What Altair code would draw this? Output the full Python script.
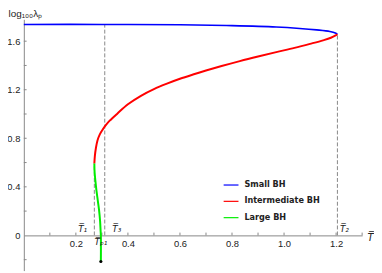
import altair as alt
import pandas as pd

# ---- data ----
blue_T = [0.0, 0.30, 0.60, 0.80, 0.97, 1.06, 1.125, 1.176, 1.197, 1.205]
blue_y = [1.738, 1.738, 1.735, 1.728, 1.717, 1.705, 1.693, 1.680, 1.668, 1.657]

red_T = [1.205, 1.198, 1.18, 1.15, 1.10, 1.04, 0.97, 0.90, 0.83, 0.76, 0.70, 0.65,
         0.60, 0.55, 0.50, 0.45, 0.40, 0.36, 0.33, 0.315, 0.302, 0.292, 0.283,
         0.277, 0.273, 0.271]
red_y = [1.657, 1.647, 1.628, 1.607, 1.578, 1.545, 1.510, 1.474, 1.436, 1.395, 1.358, 1.325,
         1.290, 1.250, 1.205, 1.150, 1.080, 1.005, 0.945, 0.908, 0.868, 0.832, 0.782,
         0.720, 0.655, 0.592]

green_T = [0.271, 0.272, 0.275, 0.279, 0.284, 0.289, 0.293, 0.295, 0.296, 0.296]
green_y = [0.592, 0.520, 0.450, 0.370, 0.290, 0.210, 0.120, 0.040, 0.000, -0.215]

dot_T = [0.296]
dot_y = [-0.215]

series_names = ["Small BH", "Intermediate BH", "Large BH"]
series_colors = ["#0000ff", "#ff0000", "#00ee00"]

vline_T = [0.271, 0.311, 1.205]
vline_top = [0.592, 1.738, 1.657]

mark_labels = ["T\u0305\u2081", "T\u0305\u2083", "T\u0305\u209a\u2081", "T\u0305\u2082"]
mark_label_T = [0.226, 0.357, 0.296, 1.232]
mark_label_y = [0.055, 0.055, -0.058, 0.055]

x_tick_labels = [0.2, 0.4, 0.6, 0.8, 1.0, 1.2]
y_tick_labels = [0.0, 0.4, 0.8, 1.2, 1.6]
x_minor = [0.1, 0.2, 0.3, 0.4, 0.5, 0.6, 0.7, 0.8, 0.9, 1.0, 1.1, 1.2, 1.3]
y_minor = [-0.2, 0.2, 0.4, 0.6, 0.8, 1.0, 1.2, 1.4, 1.6]

x_dom = [0.0, 1.30]
y_dom = [-0.29, 1.78]
W, H = 342, 254

# ---- tables ----
def curve(name, T, y):
    return pd.DataFrame({"T": T, "y": y, "series": name, "i": range(len(T))})

df_blue = curve(series_names[0], blue_T, blue_y)
df_red = curve(series_names[1], red_T, red_y)
df_green = curve(series_names[2], green_T, green_y)
df_dot = pd.DataFrame({"T": dot_T, "y": dot_y})
df_vl = pd.DataFrame({"T": vline_T, "y": [0.0] * len(vline_T), "y2": vline_top})
df_lab = pd.DataFrame({"T": mark_label_T, "y": mark_label_y, "txt": mark_labels})

tx = 2.8 * (x_dom[1] - x_dom[0]) / W   # tick length in data units
ty = 2.8 * (y_dom[1] - y_dom[0]) / H
df_xt = pd.DataFrame({"T": x_minor, "y": [0.0] * len(x_minor), "y2": [ty] * len(x_minor)})
df_yt = pd.DataFrame({"T": [0.0] * len(y_minor), "T2": [tx] * len(y_minor), "y": y_minor})

xs = alt.Scale(domain=x_dom, nice=False, zero=False)
ys = alt.Scale(domain=y_dom, nice=False, zero=False)
cs = alt.Scale(domain=series_names, range=series_colors)

x_offset = -H * (0 - y_dom[0]) / (y_dom[1] - y_dom[0])

x_axis = alt.Axis(values=x_tick_labels, format=".1f", ticks=False, tickSize=0,
                  grid=False, offset=x_offset, labelPadding=3,
                  labelFont="Liberation Sans", labelFontSize=9.5, labelColor="#222",
                  domainColor="#888", domainWidth=1,
                  title="T\u0305", titleFont="DejaVu Sans", titleFontStyle="italic",
                  titleFontWeight="normal", titleFontSize=10, titleColor="#222",
                  titleAngle=0, titleX=350, titleY=2, titleAlign="center",
                  titleBaseline="middle")
y_axis = alt.Axis(values=y_tick_labels, ticks=False, tickSize=0,
                  grid=False, labelPadding=4,
                  labelFont="Liberation Sans", labelFontSize=9.5, labelColor="#222",
                  labelExpr="datum.value == 0 ? '0' : format(datum.value, '.1f')",
                  domainColor="#888", domainWidth=1,
                  title="log\u2081\u2080\u2080\u03bb\u209a", titleFont="Liberation Sans",
                  titleFontWeight="normal", titleFontSize=10, titleColor="#222",
                  titleAngle=0, titleX=-16, titleY=-3, titleAlign="left",
                  titleBaseline="alphabetic")

legend = alt.Legend(title=None, orient="none", legendX=201, legendY=159,
                    symbolType="stroke", symbolSize=225, symbolStrokeWidth=1.2,
                    labelFont="DejaVu Sans", labelFontWeight="bold", labelFontSize=8.2,
                    labelColor="#222", labelOffset=5, rowPadding=4.5, padding=0)

X = alt.X("T:Q", scale=xs, axis=x_axis)
Y = alt.Y("y:Q", scale=ys, axis=y_axis)

vlines = alt.Chart(df_vl).mark_rule(strokeWidth=1, strokeDash=[4, 2]).encode(
    x=X, y=Y, y2="y2:Q", color=alt.value("#888"))

xticks = alt.Chart(df_xt).mark_rule(strokeWidth=1).encode(
    x=X, y=Y, y2="y2:Q", color=alt.value("#888"))
yticks = alt.Chart(df_yt).mark_rule(strokeWidth=1).encode(
    x=X, x2="T2:Q", y=Y, color=alt.value("#888"))

def line(df, w):
    return alt.Chart(df).mark_line(interpolate="catmull-rom").encode(
        x=X, y=Y,
        color=alt.Color("series:N", scale=cs, legend=legend, sort=series_names),
        strokeWidth=alt.value(w),
        order="i:Q")

blue = line(df_blue, 1.6)
red = line(df_red, 2.0)
green = line(df_green, 2.0)

dot = alt.Chart(df_dot).mark_circle(size=10, opacity=1).encode(
    x=X, y=Y, color=alt.value("black"))

labels = alt.Chart(df_lab).mark_text(font="DejaVu Sans", fontStyle="italic",
                                     fontSize=9, baseline="middle").encode(
    x=X, y=Y, text="txt:N", color=alt.value("#222"))

chart = alt.layer(vlines, xticks, yticks, blue, red, green, dot, labels).properties(
    width=W, height=H,
    autosize=alt.AutoSizeParams(type="none"),
    padding={"left": 16, "top": 10, "right": 12, "bottom": 2},
).configure_view(stroke=None)

chart.save("out.html", embed_options={"renderer": "svg", "actions": False})
